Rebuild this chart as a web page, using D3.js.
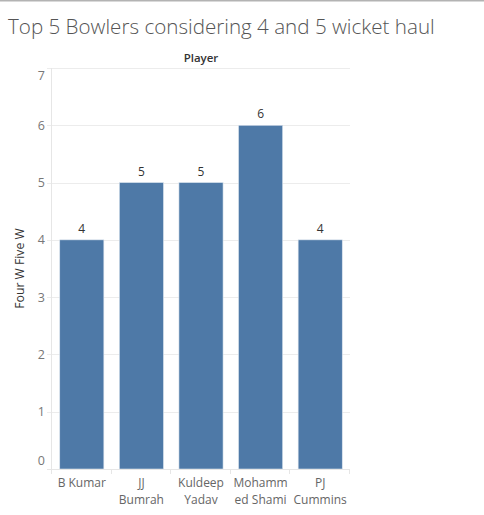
<!DOCTYPE html>
<html><head><meta charset="utf-8">
<script src="https://cdn.jsdelivr.net/npm/d3@7"></script>
<style>
body{margin:0;background:#fff;}
svg text{font-family:"Open Sans","Noto Sans",sans-serif;}
</style></head>
<body><svg id="c" width="484" height="515"></svg>
<script>
const players = ["B Kumar","JJ Bumrah","Kuldeep Yadav","Mohammed Shami","PJ Cummins"];
const playerLines = [["B Kumar"],["JJ","Bumrah"],["Kuldeep","Yadav"],["Mohamm","ed Shami"],["PJ","Cummins"]];
const hauls = [4,5,5,6,4];
const yTicks = [0,1,2,3,4,5,6,7];
const titleText = "Top 5 Bowlers considering 4 and 5 wicket haul";
const headerText = "Player";
const yTitle = "Four W Five W";

const svg = d3.select("#c");
svg.append("rect").attr("x",0).attr("y",0).attr("width",484).attr("height",1.5).attr("fill","#b3b3b3");
svg.append("text").attr("x",8).attr("y",34).attr("font-size",20.6).attr("font-weight",300)
  .attr("fill","#555").text(titleText);

const L=52, R=350, T=68, B=469;
const x = d3.scaleBand().domain(players).range([L,R]).paddingInner(0.26).paddingOuter(0.13);
const y = d3.scaleLinear().domain([0,7]).range([B,T]);

// header
svg.append("text").attr("x",(L+R)/2).attr("y",62).attr("text-anchor","middle")
  .attr("font-size",11.5).attr("font-weight",600).attr("fill","#333").text(headerText);

// gridlines
svg.append("g").selectAll("line").data(yTicks.filter(d=>d>0)).join("line")
  .attr("x1",47).attr("x2",R).attr("y1",d=>Math.round(y(d))+0.5).attr("y2",d=>Math.round(y(d))+0.5)
  .attr("stroke","#ececec").attr("stroke-width",1);

// y axis line
svg.append("line").attr("x1",L-0.5).attr("x2",L-0.5).attr("y1",T).attr("y2",B).attr("stroke","#e6e6e6");
// y tick labels
svg.append("g").selectAll("text").data(yTicks).join("text")
  .attr("x",45).attr("y",d=> d===0 ? y(d)-8 : d===7 ? y(d)+8 : y(d))
  .attr("dy","0.35em").attr("text-anchor","end").attr("font-size",12.5).attr("fill","#777").text(d=>d);

// y title
svg.append("text").attr("transform",`translate(24,${(T+B)/2}) rotate(-90)`).attr("text-anchor","middle")
  .attr("font-size",12.2).attr("fill","#333").text(yTitle);

// bars
svg.append("g").selectAll("rect").data(players).join("rect")
  .attr("x",d=>x(d)).attr("width",x.bandwidth())
  .attr("y",(d,i)=>y(hauls[i])).attr("height",(d,i)=>y(0)-y(hauls[i]))
  .attr("fill","#4e79a7").attr("stroke","#dbe4ee").attr("stroke-width",0.6);

// value labels
svg.append("g").selectAll("text").data(players).join("text")
  .attr("x",d=>x(d)+x.bandwidth()/2).attr("y",(d,i)=>y(hauls[i])-7)
  .attr("text-anchor","middle").attr("font-size",12).attr("fill","#333").text((d,i)=>hauls[i]);

// x axis line and separators
svg.append("line").attr("x1",47).attr("x2",R).attr("y1",B+0.5).attr("y2",B+0.5).attr("stroke","#e6e6e6");
const seps = players.map(d=>x(d)-x.step()*x.paddingInner()/2).concat([R]);
seps[0]=L;
svg.append("g").selectAll("line").data(seps).join("line")
  .attr("x1",d=>Math.round(d)-0.5).attr("x2",d=>Math.round(d)-0.5).attr("y1",B).attr("y2",B+5)
  .attr("stroke","#e6e6e6");

// x labels
const xl = svg.append("g").selectAll("text").data(players).join("text")
  .attr("x",d=>x(d)+x.bandwidth()/2).attr("y",487).attr("text-anchor","middle")
  .attr("font-size",12).attr("fill","#666");
xl.each(function(d,i){
  const t=d3.select(this);
  playerLines[i].forEach((s,k)=>t.append("tspan").attr("x",x(d)+x.bandwidth()/2).attr("dy",k===0?0:16.5).text(s));
});
</script></body></html>
